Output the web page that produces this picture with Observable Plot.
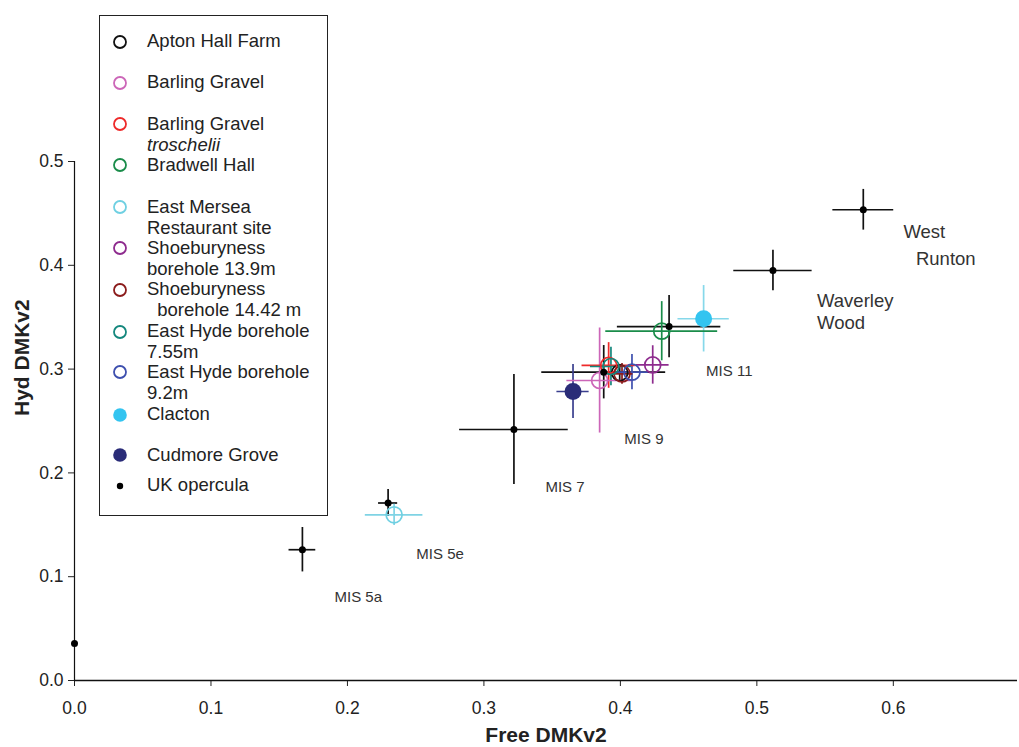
<!DOCTYPE html>
<html>
<head>
<meta charset="utf-8">
<script src="https://cdn.jsdelivr.net/npm/d3@7"></script>
<script src="https://cdn.jsdelivr.net/npm/@observablehq/plot@0.6"></script>
<style>
  html, body { margin: 0; padding: 0; background: #fff; }
  #wrap { position: relative; width: 1019px; height: 747px; font-family: "Liberation Sans", Arial, sans-serif; }
  #wrap svg.plot { display: block; }
  #legend {
    position: absolute; left: 99px; top: 15px; width: 229px; height: 501px;
    border: 1px solid #222; background: #fff; box-sizing: border-box;
  }
  .item { position: absolute; left: 47px; font-size: 18.5px; line-height: 21px; color: #222; white-space: pre; }
  .sym { position: absolute; left: 11px; width: 18px; height: 18px; overflow: visible; }
</style>
</head>
<body>
<div id="wrap"></div>
<script>
// Individual sites: mean Free / Hyd DMKv2 with error-bar half widths
const sites = [
  "Apton Hall Farm", "Barling Gravel", "Barling Gravel troschelii", "Bradwell Hall",
  "East Mersea Restaurant site", "Shoeburyness borehole 13.9m", "Shoeburyness borehole 14.42 m",
  "East Hyde borehole 7.55m", "East Hyde borehole 9.2m", "Clacton", "Cudmore Grove"
];
const siteFree    = [0.3995, 0.3848, 0.3914, 0.4303, 0.2342, 0.4237, 0.4012, 0.3931, 0.4085, 0.4610, 0.3653];
const siteHyd     = [0.2965, 0.2890, 0.3035, 0.3365, 0.1596, 0.3040, 0.2954, 0.3025, 0.2970, 0.3485, 0.2784];
const siteFreeErr = [0.006, 0.024, 0.0195, 0.041, 0.0211, 0.0120, 0.008, 0.015, 0.012, 0.0188, 0.0118];
const siteHydErr  = [0.008, 0.0506, 0.022, 0.0285, 0.0103, 0.0185, 0.010, 0.0185, 0.017, 0.032, 0.026];
const siteFilled  = [false, false, false, false, false, false, false, false, false, true, true];
const siteColors  = ["#111111", "#cc66b8", "#ee2a2a", "#1a8c4a", "#6fd0e2", "#8e2b8e", "#8b1c1c",
                     "#14877d", "#3d4fae", "#33c4f0", "#2a2c78"];
const barColors   = ["#111111", "#cc66b8", "#ee2a2a", "#1a8c4a", "#7fd3e4", "#8e2b8e", "#8b1c1c",
                     "#14877d", "#3d4fae", "#86d8ea", "#3a3f8e"];

// UK opercula reference sites
const operculaFree    = [0, 0.167, 0.2298, 0.322, 0.3878, 0.4357, 0.5118, 0.578];
const operculaHyd     = [0.0356, 0.126, 0.171, 0.2418, 0.297, 0.341, 0.395, 0.4535];
const operculaFreeErr = [0, 0.0098, 0.007, 0.0398, 0.0454, 0.0379, 0.0287, 0.0223];
const operculaHydErr  = [0, 0.0214, 0.0130, 0.053, 0.0257, 0.030, 0.0196, 0.0196];

// Stage / site annotations
const noteText = ["MIS 5a", "MIS 5e", "MIS 7", "MIS 9", "MIS 11", "Waverley", "Wood", "West", "Runton"];
const noteFree = [0.1905, 0.2505, 0.3451, 0.4029, 0.4628, 0.5441, 0.5441, 0.6074, 0.6166];
const noteHyd  = [0.0803, 0.1220, 0.1863, 0.2322, 0.2980, 0.3654, 0.3446, 0.4319, 0.4063];
const noteBig  = [false, false, false, false, false, true, true, true, true];

// Legend entries (lines of text), last one is the opercula dot
const legendLines = [
  ["Apton Hall Farm"], ["Barling Gravel"], ["Barling Gravel", "troschelii"], ["Bradwell Hall"],
  ["East Mersea", "Restaurant site"], ["Shoeburyness", "borehole 13.9m"], ["Shoeburyness", "  borehole 14.42 m"],
  ["East Hyde borehole", "7.55m"], ["East Hyde borehole", "9.2m"], ["Clacton"], ["Cudmore Grove"], ["UK opercula"]
];
const legendRowTop = [25.5, 66.5, 108, 149, 191, 232, 273.5, 315.5, 356, 398.5, 439, 469.5];

const siteRows = sites.map((s, i) => ({
  site: s, x: siteFree[i], y: siteHyd[i], ex: siteFreeErr[i], ey: siteHydErr[i],
  filled: siteFilled[i], color: siteColors[i], bar: barColors[i]
}));
const operculaRows = operculaFree.map((x, i) => ({
  x, y: operculaHyd[i], ex: operculaFreeErr[i], ey: operculaHydErr[i]
}));
const operculaBars = operculaRows.filter(d => d.ex > 0 || d.ey > 0);
const notes = noteText.map((t, i) => ({text: t, x: noteFree[i], y: noteHyd[i], big: noteBig[i]}));

const chart = Plot.plot({
  width: 1019,
  height: 747,
  marginLeft: 74,
  marginRight: 2,
  marginTop: 161,
  marginBottom: 67,
  style: {fontFamily: "'Liberation Sans', Arial, sans-serif", fontSize: "17.5px", color: "#222", background: "#fff"},
  x: {domain: [0, 0.691]},
  y: {domain: [0, 0.5]},
  marks: [
    Plot.axisX({ticks: [0, 0.1, 0.2, 0.3, 0.4, 0.5, 0.6], tickFormat: ".1f", tickSize: 6, tickPadding: 15, fontSize: 17.5, label: null}),
    Plot.axisY({ticks: [0, 0.1, 0.2, 0.3, 0.4, 0.5], tickFormat: ".1f", tickSize: 6, tickPadding: 5, fontSize: 17.5, label: null}),
    Plot.ruleY([0], {stroke: "#111", strokeWidth: 1.5}),
    Plot.ruleX([0], {stroke: "#111", strokeWidth: 1.2}),
    // opercula error bars
    Plot.ruleX(operculaBars, {x: "x", y1: d => d.y - d.ey, y2: d => d.y + d.ey, stroke: "#111", strokeWidth: 1.7}),
    Plot.ruleY(operculaBars, {y: "y", x1: d => d.x - d.ex, x2: d => d.x + d.ex, stroke: "#111", strokeWidth: 1.7}),
    // site error bars
    Plot.ruleX(siteRows, {x: "x", y1: d => d.y - d.ey, y2: d => d.y + d.ey, stroke: d => d.bar, strokeWidth: 1.7}),
    Plot.ruleY(siteRows, {y: "y", x1: d => d.x - d.ex, x2: d => d.x + d.ex, stroke: d => d.bar, strokeWidth: 1.7}),
    // open site circles
    Plot.dot(siteRows.filter(d => !d.filled), {x: "x", y: "y", r: 8, stroke: d => d.color, strokeWidth: 1.7, fill: "none"}),
    // filled site circles
    Plot.dot(siteRows.filter(d => d.filled), {x: "x", y: "y", r: 8.5, fill: d => d.color, stroke: "none"}),
    // opercula means
    Plot.dot(operculaRows, {x: "x", y: "y", r: 3.5, fill: "#000", stroke: "none"}),
    // annotations
    Plot.text(notes.filter(d => !d.big), {x: "x", y: "y", text: "text", textAnchor: "start", fontSize: 15, fill: "#333"}),
    Plot.text(notes.filter(d => d.big), {x: "x", y: "y", text: "text", textAnchor: "start", fontSize: 18.5, fill: "#333"}),
    // axis titles
    Plot.text(["Free DMKv2"], {frameAnchor: "bottom", text: d => d, dy: 61, fontSize: 21, fontWeight: "bold", fill: "#222"}),
    Plot.text(["Hyd DMKv2"], {frameAnchor: "left", text: d => d, rotate: -90, dx: -52, dy: -5, fontSize: 21, fontWeight: "bold", fill: "#222"})
  ]
});
chart.classList.add("plot");

const wrap = document.getElementById("wrap");
wrap.appendChild(chart);

// Legend box drawn on top of the plot area
const legend = document.createElement("div");
legend.id = "legend";
wrap.appendChild(legend);

legendLines.forEach((lines, i) => {
  const top = legendRowTop[i];
  const sym = d3.create("svg").attr("class", "sym").attr("viewBox", "-9 -9 18 18")
    .style("top", (top - 9) + "px");
  if (i < sites.length) {
    if (siteFilled[i]) sym.append("circle").attr("r", 6.8).attr("fill", siteColors[i]);
    else sym.append("circle").attr("r", 6).attr("fill", "none").attr("stroke", siteColors[i]).attr("stroke-width", 1.8);
  } else {
    sym.append("circle").attr("r", 3.2).attr("fill", "#000");
  }
  legend.appendChild(sym.node());

  const item = document.createElement("div");
  item.className = "item";
  item.style.top = (top - 11.5) + "px";
  lines.forEach((line, j) => {
    const span = document.createElement("div");
    span.textContent = line;
    if (line === "troschelii") span.style.fontStyle = "italic";
    item.appendChild(span);
  });
  legend.appendChild(item);
});
</script>
</body>
</html>
